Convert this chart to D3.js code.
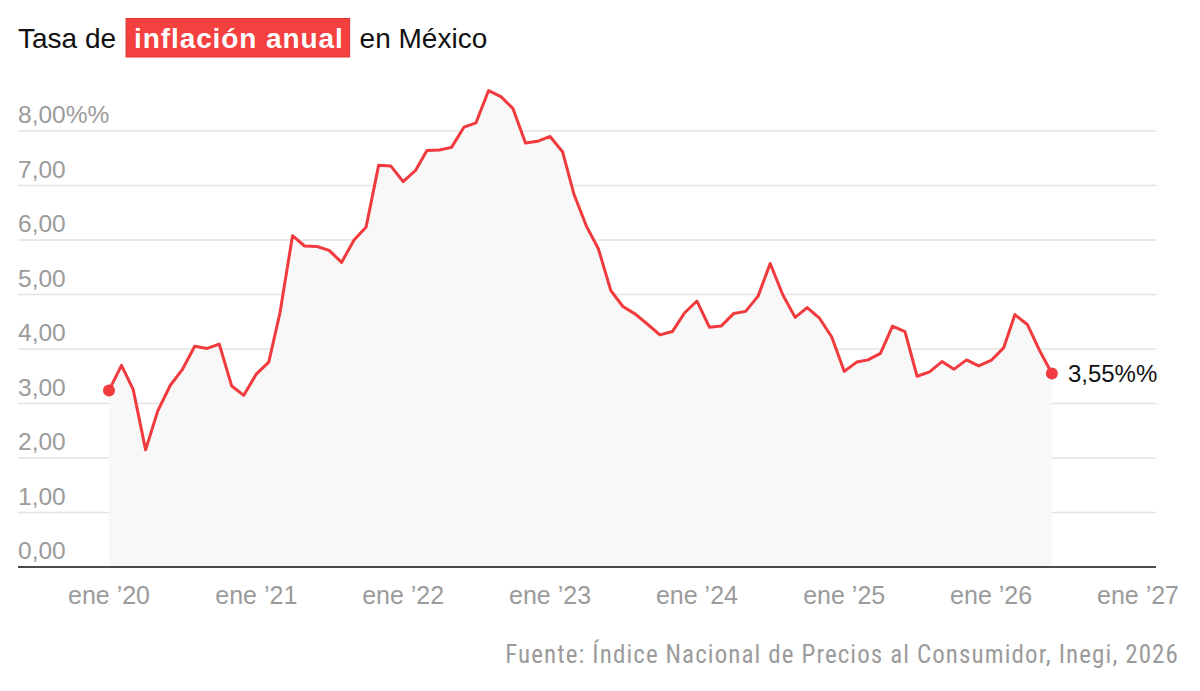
<!DOCTYPE html>
<html>
<head>
<meta charset="utf-8">
<script src="https://cdn.jsdelivr.net/npm/d3@7"></script>
<style>
  body { margin: 0; background: #fff; }
  svg { display: block; font-family: "Liberation Sans", Arial, sans-serif; }
</style>
</head>
<body>
<script>
// monthly annual inflation, ene 2020 .. jun 2026
var startYear = 2020;
var values2020 = [3.24, 3.70, 3.26, 2.15, 2.86, 3.33, 3.62, 4.05, 4.01, 4.09, 3.32, 3.15];
var values2021 = [3.54, 3.76, 4.67, 6.08, 5.89, 5.88, 5.81, 5.59, 6.00, 6.24, 7.37, 7.36];
var values2022 = [7.07, 7.28, 7.64, 7.65, 7.70, 8.07, 8.15, 8.74, 8.63, 8.41, 7.78, 7.81];
var values2023 = [7.90, 7.62, 6.85, 6.26, 5.84, 5.07, 4.78, 4.64, 4.45, 4.26, 4.32, 4.66];
var values2024 = [4.88, 4.40, 4.42, 4.65, 4.69, 4.97, 5.57, 5.00, 4.58, 4.76, 4.56, 4.22];
var values2025 = [3.59, 3.76, 3.80, 3.92, 4.42, 4.32, 3.50, 3.58, 3.77, 3.63, 3.80, 3.69];
var values2026 = [3.79, 4.02, 4.63, 4.45, 3.98, 3.55];

var yTicks = [0, 1, 2, 3, 4, 5, 6, 7, 8];
var xTickYears = [2020, 2021, 2022, 2023, 2024, 2025, 2026, 2027];
var monthAbbr = "ene";

var titleBefore = "Tasa de";
var titleHighlight = "inflación anual";
var titleAfter = "en México";
var sourceText = "Fuente: Índice Nacional de Precios al Consumidor, Inegi, 2026";

var width = 1200, height = 691;
var lineColor = "#f03a3d";
var gridColor = "#e3e3e3";
var labelColor = "#9b9b9b";

var allValues = [].concat(values2020, values2021, values2022, values2023, values2024, values2025, values2026);
var data = allValues.map(function (v, i) {
    return { date: new Date(startYear, i, 1), value: v };
});

var svg = d3.select("body").append("svg")
    .attr("width", width)
    .attr("height", height);

var x = d3.scaleTime()
    .domain([new Date(2020, 0, 1), new Date(2027, 0, 1)])
    .range([109, 1138]);

var y = d3.scaleLinear()
    .domain([0, 8])
    .range([567, 131]);

var gridLeft = 18, gridRight = 1156;

// title
var title = svg.append("g");
var t1 = title.append("text")
    .attr("x", gridLeft).attr("y", 48)
    .attr("font-size", 28).attr("fill", "#111")
    .text(titleBefore);
var w1 = t1.node().getComputedTextLength();
var boxX = gridLeft + w1 + 10;
var box = title.append("rect");
var t2 = title.append("text")
    .attr("x", boxX + 8).attr("y", 48)
    .attr("font-size", 28).attr("font-weight", "bold")
    .attr("letter-spacing", 0.9)
    .attr("fill", "#fff")
    .text(titleHighlight);
var w2 = t2.node().getComputedTextLength();
box.attr("x", boxX).attr("y", 18.5)
    .attr("width", w2 + 14).attr("height", 38.5)
    .attr("fill", "#f4403f").attr("stroke", "#e2302f").attr("stroke-width", 1);
title.append("text")
    .attr("x", boxX + w2 + 14 + 10).attr("y", 48)
    .attr("font-size", 28).attr("fill", "#111")
    .text(titleAfter);

// grid
svg.append("g").selectAll("line")
    .data(yTicks.filter(function (d) { return d > 0; }))
    .enter().append("line")
    .attr("x1", gridLeft).attr("x2", gridRight)
    .attr("y1", function (d) { return y(d); })
    .attr("y2", function (d) { return y(d); })
    .attr("stroke", gridColor).attr("stroke-width", 1.5);

// area under the line
var area = d3.area()
    .x(function (d) { return x(d.date); })
    .y0(y(0))
    .y1(function (d) { return y(d.value); });

svg.append("path")
    .datum(data)
    .attr("d", area)
    .attr("fill", "#f8f8f8");

// y labels
svg.append("g").selectAll("text")
    .data(yTicks)
    .enter().append("text")
    .attr("x", gridLeft)
    .attr("y", function (d) { return y(d) - 8; })
    .attr("font-size", 24.5)
    .attr("fill", labelColor)
    .text(function (d) {
        var s = d3.format(".2f")(d).replace(".", ",");
        return d === 8 ? s + "%%" : s;
    });

// baseline
svg.append("line")
    .attr("x1", gridLeft).attr("x2", gridRight)
    .attr("y1", y(0)).attr("y2", y(0))
    .attr("stroke", "#111").attr("stroke-width", 1.5);

// x labels
svg.append("g").selectAll("text")
    .data(xTickYears)
    .enter().append("text")
    .attr("x", function (d) { return x(new Date(d, 0, 1)); })
    .attr("y", 604)
    .attr("text-anchor", "middle")
    .attr("font-size", 25)
    .attr("fill", labelColor)
    .text(function (d) { return monthAbbr + " \u2019" + String(d).slice(2); });

// line
var line = d3.line()
    .x(function (d) { return x(d.date); })
    .y(function (d) { return y(d.value); });

svg.append("path")
    .datum(data)
    .attr("d", line)
    .attr("fill", "none")
    .attr("stroke", lineColor)
    .attr("stroke-width", 3)
    .attr("stroke-linejoin", "round");

// end dots
var first = data[0], last = data[data.length - 1];
svg.append("g").selectAll("circle")
    .data([first, last])
    .enter().append("circle")
    .attr("cx", function (d) { return x(d.date); })
    .attr("cy", function (d) { return y(d.value); })
    .attr("r", 6)
    .attr("fill", lineColor);

svg.append("text")
    .attr("x", x(last.date) + 16)
    .attr("y", y(last.value) + 8.5)
    .attr("font-size", 24)
    .attr("fill", "#111")
    .text(d3.format(".2f")(last.value).replace(".", ",") + "%%");

// source
svg.append("text")
    .attr("x", 1179).attr("y", 663)
    .attr("text-anchor", "end")
    .attr("font-size", 25)
    .attr("letter-spacing", 1.1)
    .attr("font-family", "'Liberation Sans Narrow', 'Roboto Condensed', 'Liberation Sans', sans-serif")
    .attr("fill", labelColor)
    .text(sourceText);
</script>
</body>
</html>
